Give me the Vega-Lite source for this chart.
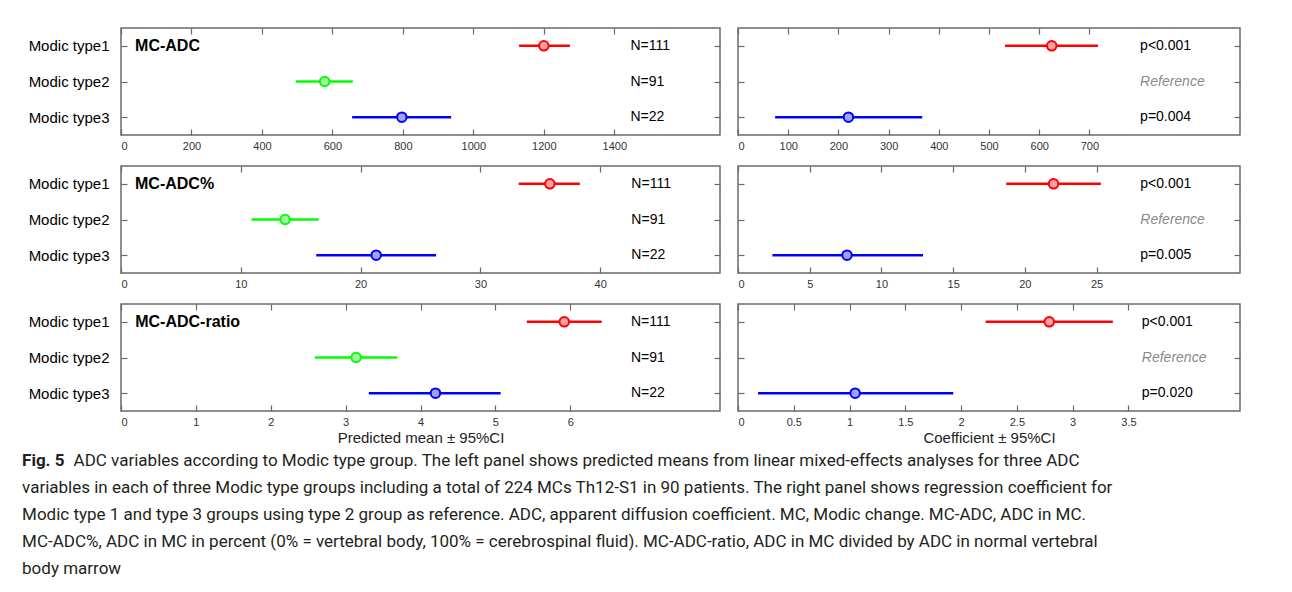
{
  "$schema": "https://vega.github.io/schema/vega-lite/v6.json",
  "padding": {"left": 19, "top": 26, "right": 5, "bottom": 0},
  "background": "white",
  "datasets": {
    "est": [
      {"panel": "MC-ADC", "side": "left", "type": "Modic type1", "est": 1200, "lo": 1130, "hi": 1274},
      {"panel": "MC-ADC", "side": "left", "type": "Modic type2", "est": 578, "lo": 496, "hi": 658},
      {"panel": "MC-ADC", "side": "left", "type": "Modic type3", "est": 797, "lo": 656, "hi": 937},
      {"panel": "MC-ADC", "side": "right", "type": "Modic type1", "est": 625, "lo": 532, "hi": 717},
      {"panel": "MC-ADC", "side": "right", "type": "Modic type3", "est": 220, "lo": 74, "hi": 367},
      {"panel": "MC-ADC%", "side": "left", "type": "Modic type1", "est": 35.8, "lo": 33.2, "hi": 38.3},
      {"panel": "MC-ADC%", "side": "left", "type": "Modic type2", "est": 13.7, "lo": 10.9, "hi": 16.5},
      {"panel": "MC-ADC%", "side": "left", "type": "Modic type3", "est": 21.3, "lo": 16.3, "hi": 26.3},
      {"panel": "MC-ADC%", "side": "right", "type": "Modic type1", "est": 22.0, "lo": 18.7, "hi": 25.3},
      {"panel": "MC-ADC%", "side": "right", "type": "Modic type3", "est": 7.6, "lo": 2.4, "hi": 12.9},
      {"panel": "MC-ADC-ratio", "side": "left", "type": "Modic type1", "est": 5.92, "lo": 5.42, "hi": 6.42},
      {"panel": "MC-ADC-ratio", "side": "left", "type": "Modic type2", "est": 3.14, "lo": 2.59, "hi": 3.69},
      {"panel": "MC-ADC-ratio", "side": "left", "type": "Modic type3", "est": 4.20, "lo": 3.31, "hi": 5.07},
      {"panel": "MC-ADC-ratio", "side": "right", "type": "Modic type1", "est": 2.79, "lo": 2.22, "hi": 3.36},
      {"panel": "MC-ADC-ratio", "side": "right", "type": "Modic type3", "est": 1.05, "lo": 0.18, "hi": 1.93}
    ],
    "lab": [
      {"panel": "MC-ADC", "type": "Modic type1", "n": "N=111", "p": "p<0.001"},
      {"panel": "MC-ADC", "type": "Modic type2", "n": "N=91", "p": "Reference"},
      {"panel": "MC-ADC", "type": "Modic type3", "n": "N=22", "p": "p=0.004"},
      {"panel": "MC-ADC%", "type": "Modic type1", "n": "N=111", "p": "p<0.001"},
      {"panel": "MC-ADC%", "type": "Modic type2", "n": "N=91", "p": "Reference"},
      {"panel": "MC-ADC%", "type": "Modic type3", "n": "N=22", "p": "p=0.005"},
      {"panel": "MC-ADC-ratio", "type": "Modic type1", "n": "N=111", "p": "p<0.001"},
      {"panel": "MC-ADC-ratio", "type": "Modic type2", "n": "N=91", "p": "Reference"},
      {"panel": "MC-ADC-ratio", "type": "Modic type3", "n": "N=22", "p": "p=0.020"}
    ],
    "cap": [
      {"line": 1, "head": "Fig. 5", "text": "ADC variables according to Modic type group. The left panel shows predicted means from linear mixed-effects analyses for three ADC"},
      {"line": 2, "text": "variables in each of three Modic type groups including a total of 224 MCs Th12-S1 in 90 patients. The right panel shows regression coefficient for"},
      {"line": 3, "text": "Modic type 1 and type 3 groups using type 2 group as reference. ADC, apparent diffusion coefficient. MC, Modic change. MC-ADC, ADC in MC."},
      {"line": 4, "text": "MC-ADC%, ADC in MC in percent (0% = vertebral body, 100% = cerebrospinal fluid). MC-ADC-ratio, ADC in MC divided by ADC in normal vertebral"},
      {"line": 5, "text": "body marrow"}
    ]
  },
  "vconcat": [
    {
      "spacing": 12,
      "vconcat": [
        {
          "spacing": 14,
          "hconcat": [
            {
              "width": 599, "height": 107,
              "resolve": {"axis": {"x": "independent", "y": "independent"}},
              "layer": [
                {"data": {"name": "est"}, "transform": [{"filter": "datum.panel === 'MC-ADC' && datum.side === 'left'"}],
                 "mark": {"type": "rule", "strokeWidth": 2.5},
                 "encoding": {
                   "y": {"field": "type", "type": "nominal", "scale": {"type": "point", "padding": 0.5, "domain": ["Modic type1", "Modic type2", "Modic type3"]}, "axis": {"orient": "left", "title": null, "labelFontSize": 15, "labelColor": "#000", "labelPadding": 18, "minExtent": 101, "maxExtent": 101}},
                   "x": {"field": "lo", "type": "quantitative", "scale": {"domain": [0, 1700], "nice": false, "zero": false}, "axis": {"orient": "bottom", "title": null, "values": [0, 200, 400, 600, 800, 1000, 1200, 1400], "format": "d"}},
                   "x2": {"field": "hi"},
                   "stroke": {"field": "type", "type": "nominal", "scale": {"domain": ["Modic type1", "Modic type2", "Modic type3"], "range": ["#ff0000", "#00ff00", "#0000ff"]}, "legend": null}
                 }},
                {"data": {"name": "est"}, "transform": [{"filter": "datum.panel === 'MC-ADC' && datum.side === 'left'"}],
                 "mark": {"type": "point", "size": 90, "strokeWidth": 2, "opacity": 1, "filled": false},
                 "encoding": {
                   "y": {"field": "type", "type": "nominal", "axis": {"orient": "right", "title": null, "labels": false}},
                   "x": {"field": "est", "type": "quantitative", "axis": {"orient": "top", "title": null, "labels": false, "values": [0, 200, 400, 600, 800, 1000, 1200, 1400]}},
                   "stroke": {"field": "type", "type": "nominal", "legend": null},
                   "fill": {"field": "type", "type": "nominal", "scale": {"domain": ["Modic type1", "Modic type2", "Modic type3"], "range": ["#f3a3a3", "#a3f3a3", "#a3a3f3"]}, "legend": null}
                 }},
                {"data": {"name": "lab"}, "transform": [{"filter": "datum.panel === 'MC-ADC'"}],
                 "mark": {"type": "text", "align": "left", "fontSize": 14, "color": "#000"},
                 "encoding": {"y": {"field": "type", "type": "nominal", "axis": null}, "x": {"datum": 1446, "type": "quantitative", "axis": null}, "text": {"field": "n"}}},
                {"data": {"name": "lab"}, "transform": [{"filter": "datum.panel === 'MC-ADC' && datum.type === 'Modic type1'"}],
                 "mark": {"type": "text", "align": "left", "fontSize": 16, "fontWeight": "bold", "color": "#000"},
                 "encoding": {"y": {"field": "type", "type": "nominal", "axis": null}, "x": {"datum": 40, "type": "quantitative", "axis": null}, "text": {"field": "panel"}}}
              ]
            },
            {
              "width": 502, "height": 107,
              "resolve": {"axis": {"x": "independent", "y": "independent"}},
              "layer": [
                {"data": {"name": "est"}, "transform": [{"filter": "datum.panel === 'MC-ADC' && datum.side === 'right'"}],
                 "mark": {"type": "rule", "strokeWidth": 2.5},
                 "encoding": {
                   "y": {"field": "type", "type": "nominal", "scale": {"type": "point", "padding": 0.5, "domain": ["Modic type1", "Modic type2", "Modic type3"]}, "axis": {"orient": "left", "title": null, "labels": false}},
                   "x": {"field": "lo", "type": "quantitative", "scale": {"domain": [0, 1000], "nice": false, "zero": false}, "axis": {"orient": "bottom", "title": null, "values": [0, 100, 200, 300, 400, 500, 600, 700], "format": "d"}},
                   "x2": {"field": "hi"},
                   "stroke": {"field": "type", "type": "nominal", "scale": {"domain": ["Modic type1", "Modic type2", "Modic type3"], "range": ["#ff0000", "#00ff00", "#0000ff"]}, "legend": null}
                 }},
                {"data": {"name": "est"}, "transform": [{"filter": "datum.panel === 'MC-ADC' && datum.side === 'right'"}],
                 "mark": {"type": "point", "size": 90, "strokeWidth": 2, "opacity": 1, "filled": false},
                 "encoding": {
                   "y": {"field": "type", "type": "nominal", "axis": {"orient": "right", "title": null, "labels": false}},
                   "x": {"field": "est", "type": "quantitative", "axis": {"orient": "top", "title": null, "labels": false, "values": [0, 100, 200, 300, 400, 500, 600, 700]}},
                   "stroke": {"field": "type", "type": "nominal", "legend": null},
                   "fill": {"field": "type", "type": "nominal", "scale": {"domain": ["Modic type1", "Modic type2", "Modic type3"], "range": ["#f3a3a3", "#a3f3a3", "#a3a3f3"]}, "legend": null}
                 }},
                {"data": {"name": "lab"}, "transform": [{"filter": "datum.panel === 'MC-ADC' && datum.type !== 'Modic type2'"}],
                 "mark": {"type": "text", "align": "left", "fontSize": 14, "color": "#000"},
                 "encoding": {"y": {"field": "type", "type": "nominal", "axis": null}, "x": {"datum": 801, "type": "quantitative", "axis": null}, "text": {"field": "p"}}},
                {"data": {"name": "lab"}, "transform": [{"filter": "datum.panel === 'MC-ADC' && datum.type === 'Modic type2'"}],
                 "mark": {"type": "text", "align": "left", "fontSize": 14, "fontStyle": "italic", "color": "#8a8a8a"},
                 "encoding": {"y": {"field": "type", "type": "nominal", "axis": null}, "x": {"datum": 801, "type": "quantitative", "axis": null}, "text": {"field": "p"}}}
              ]
            }
          ]
        },
        {
          "spacing": 14,
          "hconcat": [
            {
              "width": 599, "height": 107,
              "resolve": {"axis": {"x": "independent", "y": "independent"}},
              "layer": [
                {"data": {"name": "est"}, "transform": [{"filter": "datum.panel === 'MC-ADC%' && datum.side === 'left'"}],
                 "mark": {"type": "rule", "strokeWidth": 2.5},
                 "encoding": {
                   "y": {"field": "type", "type": "nominal", "scale": {"type": "point", "padding": 0.5, "domain": ["Modic type1", "Modic type2", "Modic type3"]}, "axis": {"orient": "left", "title": null, "labelFontSize": 15, "labelColor": "#000", "labelPadding": 18, "minExtent": 101, "maxExtent": 101}},
                   "x": {"field": "lo", "type": "quantitative", "scale": {"domain": [0, 50], "nice": false, "zero": false}, "axis": {"orient": "bottom", "title": null, "values": [0, 10, 20, 30, 40], "format": "d"}},
                   "x2": {"field": "hi"},
                   "stroke": {"field": "type", "type": "nominal", "scale": {"domain": ["Modic type1", "Modic type2", "Modic type3"], "range": ["#ff0000", "#00ff00", "#0000ff"]}, "legend": null}
                 }},
                {"data": {"name": "est"}, "transform": [{"filter": "datum.panel === 'MC-ADC%' && datum.side === 'left'"}],
                 "mark": {"type": "point", "size": 90, "strokeWidth": 2, "opacity": 1, "filled": false},
                 "encoding": {
                   "y": {"field": "type", "type": "nominal", "axis": {"orient": "right", "title": null, "labels": false}},
                   "x": {"field": "est", "type": "quantitative", "axis": {"orient": "top", "title": null, "labels": false, "values": [0, 10, 20, 30, 40]}},
                   "stroke": {"field": "type", "type": "nominal", "legend": null},
                   "fill": {"field": "type", "type": "nominal", "scale": {"domain": ["Modic type1", "Modic type2", "Modic type3"], "range": ["#f3a3a3", "#a3f3a3", "#a3a3f3"]}, "legend": null}
                 }},
                {"data": {"name": "lab"}, "transform": [{"filter": "datum.panel === 'MC-ADC%'"}],
                 "mark": {"type": "text", "align": "left", "fontSize": 14, "color": "#000"},
                 "encoding": {"y": {"field": "type", "type": "nominal", "axis": null}, "x": {"datum": 42.6, "type": "quantitative", "axis": null}, "text": {"field": "n"}}},
                {"data": {"name": "lab"}, "transform": [{"filter": "datum.panel === 'MC-ADC%' && datum.type === 'Modic type1'"}],
                 "mark": {"type": "text", "align": "left", "fontSize": 16, "fontWeight": "bold", "color": "#000"},
                 "encoding": {"y": {"field": "type", "type": "nominal", "axis": null}, "x": {"datum": 1.17, "type": "quantitative", "axis": null}, "text": {"field": "panel"}}}
              ]
            },
            {
              "width": 502, "height": 107,
              "resolve": {"axis": {"x": "independent", "y": "independent"}},
              "layer": [
                {"data": {"name": "est"}, "transform": [{"filter": "datum.panel === 'MC-ADC%' && datum.side === 'right'"}],
                 "mark": {"type": "rule", "strokeWidth": 2.5},
                 "encoding": {
                   "y": {"field": "type", "type": "nominal", "scale": {"type": "point", "padding": 0.5, "domain": ["Modic type1", "Modic type2", "Modic type3"]}, "axis": {"orient": "left", "title": null, "labels": false}},
                   "x": {"field": "lo", "type": "quantitative", "scale": {"domain": [0, 35], "nice": false, "zero": false}, "axis": {"orient": "bottom", "title": null, "values": [0, 5, 10, 15, 20, 25], "format": "d"}},
                   "x2": {"field": "hi"},
                   "stroke": {"field": "type", "type": "nominal", "scale": {"domain": ["Modic type1", "Modic type2", "Modic type3"], "range": ["#ff0000", "#00ff00", "#0000ff"]}, "legend": null}
                 }},
                {"data": {"name": "est"}, "transform": [{"filter": "datum.panel === 'MC-ADC%' && datum.side === 'right'"}],
                 "mark": {"type": "point", "size": 90, "strokeWidth": 2, "opacity": 1, "filled": false},
                 "encoding": {
                   "y": {"field": "type", "type": "nominal", "axis": {"orient": "right", "title": null, "labels": false}},
                   "x": {"field": "est", "type": "quantitative", "axis": {"orient": "top", "title": null, "labels": false, "values": [0, 5, 10, 15, 20, 25]}},
                   "stroke": {"field": "type", "type": "nominal", "legend": null},
                   "fill": {"field": "type", "type": "nominal", "scale": {"domain": ["Modic type1", "Modic type2", "Modic type3"], "range": ["#f3a3a3", "#a3f3a3", "#a3a3f3"]}, "legend": null}
                 }},
                {"data": {"name": "lab"}, "transform": [{"filter": "datum.panel === 'MC-ADC%' && datum.type !== 'Modic type2'"}],
                 "mark": {"type": "text", "align": "left", "fontSize": 14, "color": "#000"},
                 "encoding": {"y": {"field": "type", "type": "nominal", "axis": null}, "x": {"datum": 28.05, "type": "quantitative", "axis": null}, "text": {"field": "p"}}},
                {"data": {"name": "lab"}, "transform": [{"filter": "datum.panel === 'MC-ADC%' && datum.type === 'Modic type2'"}],
                 "mark": {"type": "text", "align": "left", "fontSize": 14, "fontStyle": "italic", "color": "#8a8a8a"},
                 "encoding": {"y": {"field": "type", "type": "nominal", "axis": null}, "x": {"datum": 28.05, "type": "quantitative", "axis": null}, "text": {"field": "p"}}}
              ]
            }
          ]
        },
        {
          "spacing": 14,
          "hconcat": [
            {
              "width": 599, "height": 107,
              "resolve": {"axis": {"x": "independent", "y": "independent"}},
              "layer": [
                {"data": {"name": "est"}, "transform": [{"filter": "datum.panel === 'MC-ADC-ratio' && datum.side === 'left'"}],
                 "mark": {"type": "rule", "strokeWidth": 2.5},
                 "encoding": {
                   "y": {"field": "type", "type": "nominal", "scale": {"type": "point", "padding": 0.5, "domain": ["Modic type1", "Modic type2", "Modic type3"]}, "axis": {"orient": "left", "title": null, "labelFontSize": 15, "labelColor": "#000", "labelPadding": 18, "minExtent": 101, "maxExtent": 101}},
                   "x": {"field": "lo", "type": "quantitative", "scale": {"domain": [0, 8], "nice": false, "zero": false}, "axis": {"orient": "bottom", "title": "Predicted mean ± 95%CI", "values": [0, 1, 2, 3, 4, 5, 6], "format": "d"}},
                   "x2": {"field": "hi"},
                   "stroke": {"field": "type", "type": "nominal", "scale": {"domain": ["Modic type1", "Modic type2", "Modic type3"], "range": ["#ff0000", "#00ff00", "#0000ff"]}, "legend": null}
                 }},
                {"data": {"name": "est"}, "transform": [{"filter": "datum.panel === 'MC-ADC-ratio' && datum.side === 'left'"}],
                 "mark": {"type": "point", "size": 90, "strokeWidth": 2, "opacity": 1, "filled": false},
                 "encoding": {
                   "y": {"field": "type", "type": "nominal", "axis": {"orient": "right", "title": null, "labels": false}},
                   "x": {"field": "est", "type": "quantitative", "axis": {"orient": "top", "title": null, "labels": false, "values": [0, 1, 2, 3, 4, 5, 6]}},
                   "stroke": {"field": "type", "type": "nominal", "legend": null},
                   "fill": {"field": "type", "type": "nominal", "scale": {"domain": ["Modic type1", "Modic type2", "Modic type3"], "range": ["#f3a3a3", "#a3f3a3", "#a3a3f3"]}, "legend": null}
                 }},
                {"data": {"name": "lab"}, "transform": [{"filter": "datum.panel === 'MC-ADC-ratio'"}],
                 "mark": {"type": "text", "align": "left", "fontSize": 14, "color": "#000"},
                 "encoding": {"y": {"field": "type", "type": "nominal", "axis": null}, "x": {"datum": 6.81, "type": "quantitative", "axis": null}, "text": {"field": "n"}}},
                {"data": {"name": "lab"}, "transform": [{"filter": "datum.panel === 'MC-ADC-ratio' && datum.type === 'Modic type1'"}],
                 "mark": {"type": "text", "align": "left", "fontSize": 16, "fontWeight": "bold", "color": "#000"},
                 "encoding": {"y": {"field": "type", "type": "nominal", "axis": null}, "x": {"datum": 0.19, "type": "quantitative", "axis": null}, "text": {"field": "panel"}}}
              ]
            },
            {
              "width": 502, "height": 107,
              "resolve": {"axis": {"x": "independent", "y": "independent"}},
              "layer": [
                {"data": {"name": "est"}, "transform": [{"filter": "datum.panel === 'MC-ADC-ratio' && datum.side === 'right'"}],
                 "mark": {"type": "rule", "strokeWidth": 2.5},
                 "encoding": {
                   "y": {"field": "type", "type": "nominal", "scale": {"type": "point", "padding": 0.5, "domain": ["Modic type1", "Modic type2", "Modic type3"]}, "axis": {"orient": "left", "title": null, "labels": false}},
                   "x": {"field": "lo", "type": "quantitative", "scale": {"domain": [0, 4.5], "nice": false, "zero": false}, "axis": {"orient": "bottom", "title": "Coefficient ± 95%CI", "values": [0, 0.5, 1, 1.5, 2, 2.5, 3, 3.5], "format": ".1~f"}},
                   "x2": {"field": "hi"},
                   "stroke": {"field": "type", "type": "nominal", "scale": {"domain": ["Modic type1", "Modic type2", "Modic type3"], "range": ["#ff0000", "#00ff00", "#0000ff"]}, "legend": null}
                 }},
                {"data": {"name": "est"}, "transform": [{"filter": "datum.panel === 'MC-ADC-ratio' && datum.side === 'right'"}],
                 "mark": {"type": "point", "size": 90, "strokeWidth": 2, "opacity": 1, "filled": false},
                 "encoding": {
                   "y": {"field": "type", "type": "nominal", "axis": {"orient": "right", "title": null, "labels": false}},
                   "x": {"field": "est", "type": "quantitative", "axis": {"orient": "top", "title": null, "labels": false, "values": [0, 0.5, 1, 1.5, 2, 2.5, 3, 3.5]}},
                   "stroke": {"field": "type", "type": "nominal", "legend": null},
                   "fill": {"field": "type", "type": "nominal", "scale": {"domain": ["Modic type1", "Modic type2", "Modic type3"], "range": ["#f3a3a3", "#a3f3a3", "#a3a3f3"]}, "legend": null}
                 }},
                {"data": {"name": "lab"}, "transform": [{"filter": "datum.panel === 'MC-ADC-ratio' && datum.type !== 'Modic type2'"}],
                 "mark": {"type": "text", "align": "left", "fontSize": 14, "color": "#000"},
                 "encoding": {"y": {"field": "type", "type": "nominal", "axis": null}, "x": {"datum": 3.62, "type": "quantitative", "axis": null}, "text": {"field": "p"}}},
                {"data": {"name": "lab"}, "transform": [{"filter": "datum.panel === 'MC-ADC-ratio' && datum.type === 'Modic type2'"}],
                 "mark": {"type": "text", "align": "left", "fontSize": 14, "fontStyle": "italic", "color": "#8a8a8a"},
                 "encoding": {"y": {"field": "type", "type": "nominal", "axis": null}, "x": {"datum": 3.62, "type": "quantitative", "axis": null}, "text": {"field": "p"}}}
              ]
            }
          ]
        }
      ]
    },
    {
      "width": 1160, "height": 135,
      "view": {"stroke": null},
      "data": {"name": "cap"},
      "layer": [
        {"transform": [{"filter": "datum.line === 1"}],
         "mark": {"type": "text", "align": "left", "font": "Roboto", "fontSize": 17, "fontWeight": "bold", "color": "#231f20"},
         "encoding": {"y": {"field": "line", "type": "ordinal", "scale": {"type": "point", "padding": 0.5, "domain": [1, 2, 3, 4, 5]}, "axis": null}, "x": {"datum": -0.0853, "type": "quantitative", "scale": {"domain": [0, 1], "nice": false, "zero": false}, "axis": null}, "text": {"field": "head"}}},
        {"transform": [{"filter": "datum.line === 1"}],
         "mark": {"type": "text", "align": "left", "font": "Roboto", "fontSize": 17, "color": "#231f20"},
         "encoding": {"y": {"field": "line", "type": "ordinal", "axis": null}, "x": {"datum": -0.0409, "type": "quantitative", "axis": null}, "text": {"field": "text"}}},
        {"transform": [{"filter": "datum.line > 1"}],
         "mark": {"type": "text", "align": "left", "font": "Roboto", "fontSize": 17, "color": "#231f20"},
         "encoding": {"y": {"field": "line", "type": "ordinal", "axis": null}, "x": {"datum": -0.0853, "type": "quantitative", "axis": null}, "text": {"field": "text"}}}
      ]
    }
  ],
  "spacing": 1,
  "config": {
    "font": "Liberation Sans",
    "view": {"stroke": "#6a6a6a", "strokeWidth": 1.5},
    "axis": {"domain": false, "grid": false, "tickColor": "#6a6a6a", "tickSize": -6, "tickWidth": 1.2, "labelPadding": 11, "labelFont": "Liberation Sans", "labelFontSize": 11, "labelColor": "#333333", "titleFont": "Liberation Sans", "titleFontSize": 15, "titleFontWeight": "normal", "titleColor": "#222222", "titlePadding": 3}
  }
}
